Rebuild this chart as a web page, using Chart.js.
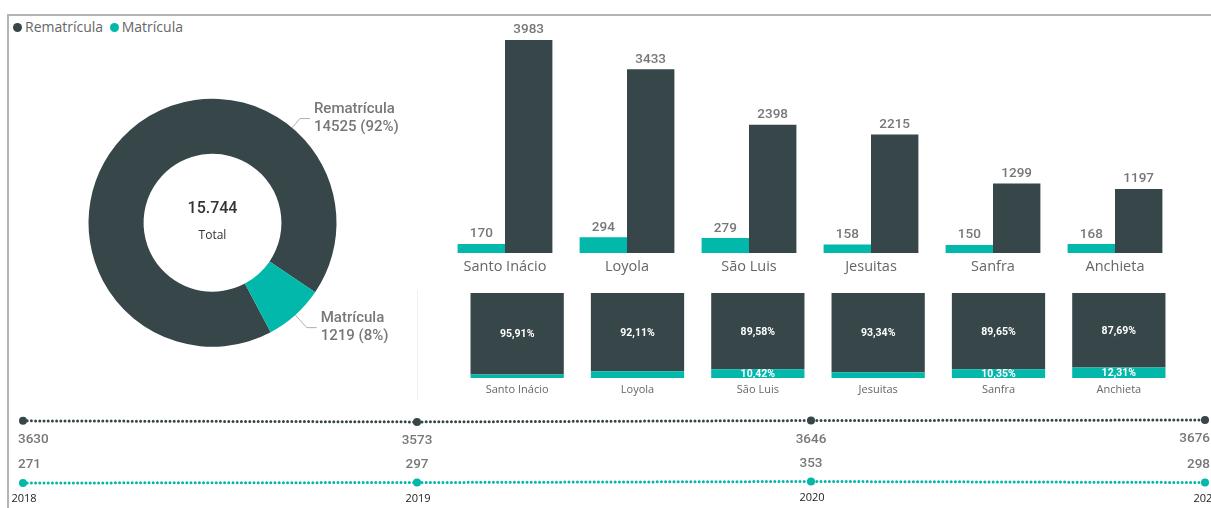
<!DOCTYPE html>
<html lang="pt-BR">
<head>
<meta charset="utf-8">
<title>Matrículas e Rematrículas</title>
<script src="https://cdn.jsdelivr.net/npm/chart.js@4/dist/chart.umd.min.js"></script>
<style>
  body { margin: 0; width: 1211px; height: 508px; overflow: hidden; background: #fff; position: relative; font-family: 'Open Sans', sans-serif; }
  .moldura { position: absolute; left: 7px; top: 14px; width: 1220px; height: 520px; border-top: 2px solid #b4b4b4; border-left: 2px solid #b4b4b4; }
  .legenda { position: absolute; left: 13px; top: 17px; font-size: 14px; line-height: 20px; color: #666; white-space: nowrap; }
  .ponto { display: inline-block; width: 9px; height: 9px; border-radius: 50%; margin-right: 3px; vertical-align: 0px; }
  .divisor { position: absolute; left: 417px; top: 290px; width: 1px; height: 110px; background: #efefef; }
  canvas { position: absolute; }
</style>
</head>
<body>
<div class="moldura"></div>
<div class="legenda">
  <span class="ponto" style="background:#374649"></span>Rematrícula
  <span class="ponto" style="background:#01B8AA; margin-left:3px"></span>Matrícula
</div>
<div class="divisor"></div>
<canvas id="rosca" width="440" height="360" style="left:0; top:40px"></canvas>
<canvas id="barras" width="771" height="285" style="left:440px; top:0"></canvas>
<canvas id="percentuais" width="771" height="120" style="left:440px; top:285px"></canvas>
<canvas id="anos" width="1240" height="108" style="left:0; top:400px"></canvas>

<script>
const escolas = ['Santo Inácio', 'Loyola', 'São Luis', 'Jesuitas', 'Sanfra', 'Anchieta'];
const matricula = [170, 294, 279, 158, 150, 168];
const rematricula = [3983, 3433, 2398, 2215, 1299, 1197];
const pctMatricula = [4.09, 7.89, 10.42, 6.66, 10.35, 12.31];
const pctRematricula = [95.91, 92.11, 89.58, 93.34, 89.65, 87.69];
const anos = ['2018', '2019', '2020', '2021'];
const rematriculaAno = [3630, 3573, 3646, 3676];
const matriculaAno = [271, 297, 353, 298];

const ESCURO = '#374649';
const VERDE = '#01B8AA';
const CINZA = '#777';
const NUM = 'Roboto, sans-serif';
const TXT = '"Open Sans", sans-serif';

const soma = arr => arr.reduce((a, b) => a + b, 0);
const totalRematricula = soma(rematricula);
const totalMatricula = soma(matricula);

const semExtras = { legend: { display: false }, tooltip: { enabled: false } };

// ---------- rosca ----------
const rotulosRosca = {
  id: 'rotulosRosca',
  afterDraw(chart) {
    const ctx = chart.ctx;
    const arcos = chart.getDatasetMeta(0).data;
    const { x, y, outerRadius } = arcos[0];
    const valores = chart.data.datasets[0].data;
    const total = soma(valores);

    ctx.save();
    ctx.fillStyle = '#333';
    ctx.textAlign = 'center';
    ctx.textBaseline = 'middle';
    ctx.font = '500 16px ' + NUM;
    ctx.fillText(total.toLocaleString('de-DE'), x, y - 14);
    ctx.font = '12px ' + TXT;
    ctx.fillText('Total', x, y + 13);

    // linhas de chamada: rematrícula ancorada no lado direito, matrícula no meio da fatia
    const angulos = [40 * Math.PI / 180 - Math.PI / 2, (arcos[1].startAngle + arcos[1].endAngle) / 2];
    const saltos = [12, 17];
    arcos.forEach((arco, i) => {
      const a = angulos[i];
      const x0 = x + Math.cos(a) * outerRadius, y0 = y + Math.sin(a) * outerRadius;
      const x1 = x0 + Math.cos(a) * saltos[i], y1 = y0 + Math.sin(a) * saltos[i];
      const x2 = x1 + 10;
      ctx.strokeStyle = '#b0b0b0';
      ctx.lineWidth = 1;
      ctx.beginPath();
      ctx.moveTo(x0, y0); ctx.lineTo(x1, y1); ctx.lineTo(x2, y1);
      ctx.stroke();

      const pct = Math.round(valores[i] / total * 100);
      ctx.fillStyle = CINZA;
      ctx.textAlign = 'left';
      ctx.font = '500 15px ' + NUM;
      ctx.fillText(chart.data.labels[i], x2 + 4, y1 - 9);
      ctx.fillText(valores[i] + ' (' + pct + '%)', x2 + 4, y1 + 9);
    });
    ctx.restore();
  }
};

new Chart(document.getElementById('rosca'), {
  type: 'doughnut',
  data: {
    labels: ['Rematrícula', 'Matrícula'],
    datasets: [{ data: [totalRematricula, totalMatricula], backgroundColor: [ESCURO, VERDE], borderWidth: 0 }]
  },
  options: {
    responsive: false,
    animation: false,
    cutout: '55.6%',
    rotation: 152,
    layout: { padding: { left: 88.5, right: 103.5, top: 58.5, bottom: 53 } },
    plugins: semExtras
  },
  plugins: [rotulosRosca]
});

// ---------- barras por escola ----------
const rotulosBarras = {
  id: 'rotulosBarras',
  afterDatasetsDraw(chart) {
    const ctx = chart.ctx;
    ctx.save();
    ctx.textAlign = 'center';
    ctx.fillStyle = CINZA;
    ctx.font = '500 13.5px ' + NUM;
    chart.data.datasets.forEach((ds, d) => {
      chart.getDatasetMeta(d).data.forEach((barra, i) => {
        ctx.fillText(ds.data[i], barra.x, barra.y - 6.5);
      });
    });
    ctx.fillStyle = '#666';
    ctx.font = '14.5px ' + TXT;
    ctx.textBaseline = 'middle';
    const x = chart.scales.x;
    chart.data.labels.forEach((nome, i) => {
      ctx.fillText(nome, x.getPixelForValue(i), chart.chartArea.bottom + 14);
    });
    ctx.restore();
  }
};

new Chart(document.getElementById('barras'), {
  type: 'bar',
  data: {
    labels: escolas,
    datasets: [
      { label: 'Matrícula', data: matricula, backgroundColor: VERDE, categoryPercentage: 0.777, barPercentage: 1 },
      { label: 'Rematrícula', data: rematricula, backgroundColor: ESCURO, categoryPercentage: 0.777, barPercentage: 1 }
    ]
  },
  options: {
    responsive: false,
    animation: false,
    layout: { padding: { left: 4, right: 35, top: 39, bottom: 32 } },
    scales: {
      x: { display: false },
      y: { display: false, min: 0, max: 4000 }
    },
    plugins: semExtras
  },
  plugins: [rotulosBarras]
});

// ---------- 100% empilhado ----------
const rotulosPct = {
  id: 'rotulosPct',
  afterDatasetsDraw(chart) {
    const ctx = chart.ctx;
    const area = chart.chartArea;
    ctx.save();
    ctx.beginPath();
    ctx.rect(area.left, area.top, area.right - area.left, area.bottom - area.top);
    ctx.clip();
    ctx.fillStyle = '#fff';
    ctx.textAlign = 'center';
    ctx.textBaseline = 'middle';
    ctx.font = 'bold 10.5px ' + NUM;
    chart.data.datasets.forEach((ds, d) => {
      chart.getDatasetMeta(d).data.forEach((barra, i) => {
        if (ds.data[i] < 10) return;
        const txt = ds.data[i].toFixed(2).replace('.', ',') + '%';
        ctx.fillText(txt, barra.x, (barra.y + barra.base) / 2 + 1);
      });
    });
    ctx.restore();

    ctx.save();
    ctx.fillStyle = '#666';
    ctx.textAlign = 'center';
    ctx.textBaseline = 'middle';
    ctx.font = '11px ' + TXT;
    chart.data.labels.forEach((nome, i) => {
      ctx.fillText(nome, chart.scales.x.getPixelForValue(i), area.bottom + 12);
    });
    ctx.restore();
  }
};

new Chart(document.getElementById('percentuais'), {
  type: 'bar',
  data: {
    labels: escolas,
    datasets: [
      { label: 'Matrícula', data: pctMatricula, backgroundColor: VERDE, barPercentage: 0.775, categoryPercentage: 1 },
      { label: 'Rematrícula', data: pctRematricula, backgroundColor: ESCURO, barPercentage: 0.775, categoryPercentage: 1 }
    ]
  },
  options: {
    responsive: false,
    animation: false,
    layout: { padding: { left: 17, right: 32, top: 8, bottom: 27 } },
    scales: {
      x: { display: false, stacked: true },
      y: { display: false, stacked: true, min: 0, max: 100 }
    },
    plugins: semExtras
  },
  plugins: [rotulosPct]
});

// ---------- evolução por ano ----------
const rotulosAnos = {
  id: 'rotulosAnos',
  afterDatasetsDraw(chart) {
    const ctx = chart.ctx;
    const n = chart.data.labels.length;
    ctx.save();
    ctx.fillStyle = CINZA;
    ctx.font = '500 13.5px ' + NUM;
    ctx.textBaseline = 'middle';
    const desloc = [19, -18];
    chart.data.datasets.forEach((ds, d) => {
      chart.getDatasetMeta(d).data.forEach((p, i) => {
        let x = p.x;
        ctx.textAlign = 'center';
        if (i === 0) { ctx.textAlign = 'left'; x -= 5; }
        if (i === n - 1) { ctx.textAlign = 'right'; x += 5; }
        ctx.fillText(ds.data[i], x, p.y + desloc[d]);
      });
    });
    ctx.fillStyle = '#222';
    ctx.font = '11px ' + TXT;
    ctx.textAlign = 'center';
    const base = chart.getDatasetMeta(1).data;
    chart.data.labels.forEach((ano, i) => {
      ctx.fillText(ano, base[i].x + 1, base[i].y + 16);
    });
    ctx.restore();
  }
};

const estiloLinha = cor => ({
  borderColor: cor,
  backgroundColor: cor,
  pointBackgroundColor: cor,
  pointBorderWidth: 0,
  pointRadius: 4,
  borderWidth: 3,
  borderDash: [0, 4.2],
  borderCapStyle: 'round',
  clip: false
});

new Chart(document.getElementById('anos'), {
  type: 'line',
  data: {
    labels: anos,
    datasets: [
      { label: 'Rematrícula', data: rematriculaAno, ...estiloLinha(ESCURO) },
      { label: 'Matrícula', data: matriculaAno, ...estiloLinha(VERDE) }
    ]
  },
  options: {
    responsive: false,
    animation: false,
    layout: { padding: { left: 23, right: 35, top: 14, bottom: 20 } },
    scales: {
      x: { display: false, offset: false },
      y: { display: false, min: 0, max: 4000 }
    },
    plugins: semExtras
  },
  plugins: [rotulosAnos]
});
</script>
</body>
</html>
